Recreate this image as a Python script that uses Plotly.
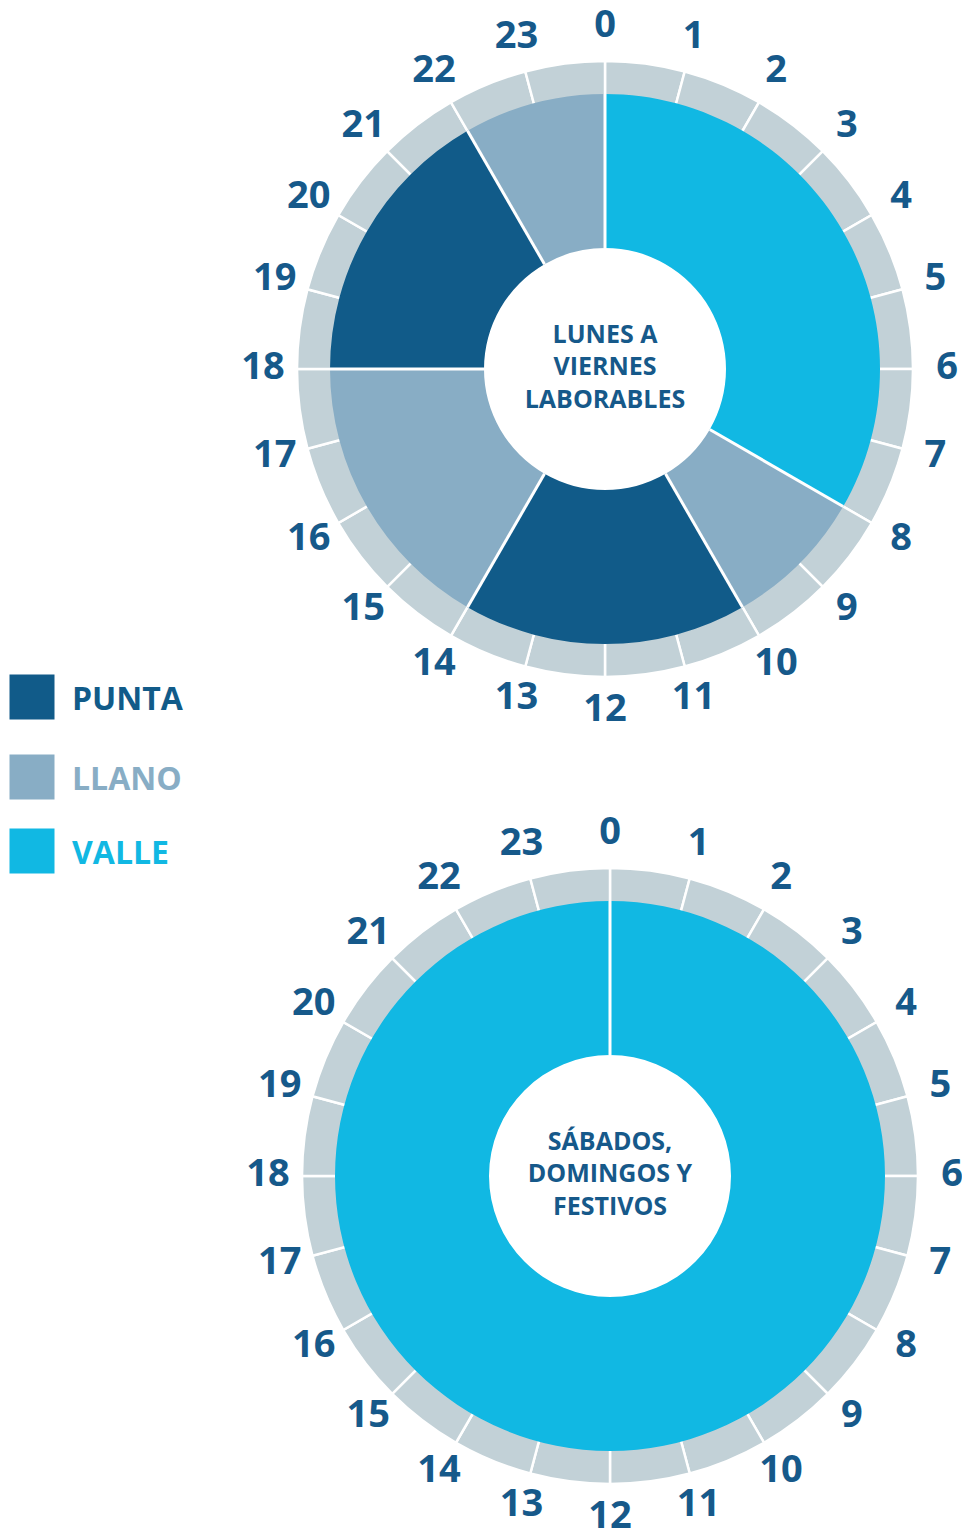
import plotly.graph_objects as go

W, H = 962, 1537

# ---------------- data ----------------
hours = list(range(24))
hour_labels = [str(h) for h in hours]

categories = ["PUNTA", "LLANO", "VALLE"]
category_colors = ["#115B89", "#88ADC5", "#11B8E3"]

weekday_start = [0, 8, 10, 14, 18, 22]
weekday_end = [8, 10, 14, 18, 22, 24]
weekday_type = ["VALLE", "LLANO", "PUNTA", "LLANO", "PUNTA", "LLANO"]

weekend_start = [0]
weekend_end = [24]
weekend_type = ["VALLE"]

titles = ["LUNES A<br>VIERNES<br>LABORABLES", "SÁBADOS,<br>DOMINGOS Y<br>FESTIVOS"]

# ---------------- style ----------------
TEXT = "#16598A"
RING = "#C2D1D7"
FONT = "Open Sans"
R_HOLE, R_COLOR, R_RING, R_LABEL, RING_BASE = 121, 275, 308, 342, 160
color_of = dict(zip(categories, category_colors))

fig = go.Figure()


def add_clock(pid, starts, ends, types, title):
    # outer hour ring
    fig.add_trace(go.Barpolar(
        subplot=pid, theta=[h * 15 + 7.5 for h in hours], width=[15] * 24,
        r=[R_RING - RING_BASE] * 24, base=RING_BASE,
        marker=dict(color=RING, line=dict(color="white", width=2.5)),
        hoverinfo="skip", showlegend=False))
    # tariff periods
    fig.add_trace(go.Barpolar(
        subplot=pid,
        theta=[(s + e) / 2 * 15 for s, e in zip(starts, ends)],
        width=[(e - s) * 15 for s, e in zip(starts, ends)],
        r=[R_COLOR - R_HOLE] * len(starts), base=R_HOLE,
        marker=dict(color=[color_of[t] for t in types], line=dict(width=0)),
        hoverinfo="skip", showlegend=False))
    # white boundaries between periods
    th, rr = [], []
    for s in starts:
        th += [s * 15, s * 15, None]
        rr += [R_HOLE, R_COLOR, None]
    fig.add_trace(go.Scatterpolar(
        subplot=pid, theta=th, r=rr, mode="lines",
        line=dict(color="white", width=3), hoverinfo="skip", showlegend=False))
    # hour labels
    fig.add_trace(go.Scatterpolar(
        subplot=pid, theta=[h * 15 for h in hours], r=[R_LABEL] * 24,
        mode="text", text=hour_labels, textposition="middle center",
        textfont=dict(family=FONT, size=38, color=TEXT, weight=700),
        cliponaxis=False, hoverinfo="skip", showlegend=False))
    # centre title
    fig.add_trace(go.Scatterpolar(
        subplot=pid, theta=[0], r=[0], mode="text", text=[title],
        textposition="middle center",
        textfont=dict(family=FONT, size=25, color=TEXT, weight=700),
        cliponaxis=False, hoverinfo="skip", showlegend=False))


add_clock("polar", weekday_start, weekday_end, weekday_type, titles[0])
add_clock("polar2", weekend_start, weekend_end, weekend_type, titles[1])

# legend (pixel coordinates on a hidden cartesian axis)
leg_y = [697, 777, 851]
fig.add_trace(go.Scatter(
    x=[32] * 3, y=leg_y, mode="markers",
    marker=dict(symbol="square", size=45, color=category_colors, line=dict(width=0)),
    hoverinfo="skip", showlegend=False))
for cat, col, y in zip(categories, category_colors, leg_y):
    fig.add_annotation(x=70, y=y, xref="x", yref="y", text=cat, showarrow=False,
                       xanchor="left", yanchor="middle",
                       font=dict(family=FONT, size=32, color=col, weight=700))


def polar_layout(cx, cy, rd):
    return dict(
        domain=dict(x=[(cx - rd) / W, min(1, (cx + rd) / W)],
                    y=[1 - (cy + rd) / H, 1 - (cy - rd) / H]),
        bgcolor="rgba(0,0,0,0)",
        radialaxis=dict(range=[0, rd], visible=False),
        angularaxis=dict(rotation=90, direction="clockwise", visible=False,
                         showgrid=False, showline=False, showticklabels=False),
        barmode="overlay",
    )


fig.update_layout(
    width=W, height=H, margin=dict(l=0, r=0, t=0, b=0),
    paper_bgcolor="white", plot_bgcolor="white",
    polar=polar_layout(605, 369, 355),
    polar2=polar_layout(610, 1176, 352),
    xaxis=dict(range=[0, W], domain=[0, 1], visible=False, fixedrange=True),
    yaxis=dict(range=[H, 0], domain=[0, 1], visible=False, fixedrange=True),
    showlegend=False,
)

fig.write_html("out.html", config={"displayModeBar": False},
               post_script="document.body.style.margin='0px';document.body.style.overflow='hidden';")
